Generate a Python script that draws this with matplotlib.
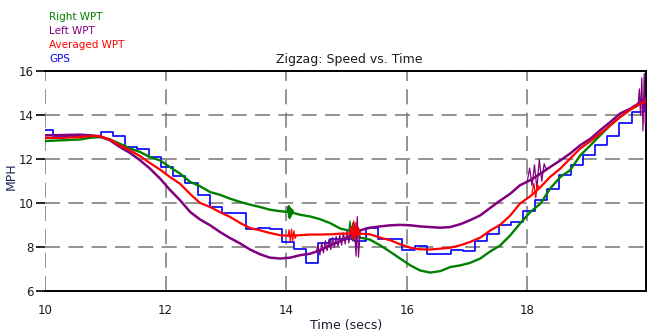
import matplotlib
matplotlib.use("Agg")
import matplotlib.pyplot as plt

# ---------------- data ----------------
t_wpt = [10.00, 10.25, 10.58, 10.75, 10.91, 11.08, 11.24, 11.41, 11.58, 11.74,
         11.91, 12.07, 12.24, 12.41, 12.57, 12.74, 12.90, 13.07, 13.24, 13.40,
         13.57, 13.73, 13.90, 14.07, 14.23, 14.40, 14.56, 14.73, 14.90, 15.06,
         15.23, 15.39, 15.56, 15.73, 15.89, 16.06, 16.22, 16.39, 16.56, 16.72,
         16.89, 17.05, 17.22, 17.39, 17.55, 17.72, 17.88, 18.05, 18.22, 18.38,
         18.55, 18.71, 18.88, 19.05, 19.21, 19.38, 19.54, 19.71, 19.88, 19.97]

right_wpt = [12.83, 12.86, 12.90, 12.98, 13.01, 12.90, 12.71, 12.49, 12.33, 12.10,
             11.95, 11.65, 11.35, 10.97, 10.78, 10.51, 10.39, 10.21, 10.06, 9.94,
             9.83, 9.71, 9.64, 9.60, 9.48, 9.40, 9.28, 9.10, 8.85, 8.75,
             8.44, 8.35, 8.09, 7.79, 7.49, 7.18, 6.95, 6.85, 6.92, 7.10,
             7.18, 7.29, 7.49, 7.82, 8.08, 8.55, 9.08, 9.60, 9.99, 10.67,
             11.20, 11.50, 12.18, 12.64, 13.09, 13.55, 13.92, 14.26, 14.53, 14.62]

left_wpt = [13.09, 13.10, 13.12, 13.09, 13.05, 12.86, 12.56, 12.29, 11.95, 11.58,
            11.12, 10.62, 10.14, 9.60, 9.27, 9.00, 8.70, 8.42, 8.17, 7.90,
            7.68, 7.53, 7.49, 7.53, 7.64, 7.71, 7.86, 8.09, 8.28, 8.50,
            8.77, 8.89, 8.95, 9.00, 9.02, 9.00, 8.95, 8.92, 8.89, 8.92,
            9.05, 9.23, 9.45, 9.80, 10.12, 10.44, 10.82, 11.05, 11.35, 11.65,
            11.95, 12.26, 12.64, 12.94, 13.32, 13.70, 14.08, 14.30, 14.60, 14.75]

avg_wpt = [12.97, 12.97, 13.01, 13.05, 13.05, 12.90, 12.64, 12.41, 12.14, 11.83,
           11.53, 11.20, 10.89, 10.42, 10.02, 9.83, 9.60, 9.38, 9.10, 8.88,
           8.77, 8.65, 8.55, 8.52, 8.55, 8.58, 8.58, 8.59, 8.62, 8.63,
           8.62, 8.59, 8.44, 8.32, 8.14, 7.98, 7.91, 7.90, 7.94, 7.98,
           8.09, 8.24, 8.44, 8.77, 9.02, 9.45, 9.99, 10.32, 10.74, 11.20,
           11.58, 12.03, 12.49, 12.83, 13.17, 13.55, 13.92, 14.26, 14.53, 14.65]

# noisy bursts (read approximately), one list pair per burst
right_b1_t = [14.02, 14.03, 14.04, 14.05, 14.06, 14.07, 14.08, 14.09, 14.10, 14.11, 14.12]
right_b1_v = [9.62, 9.85, 9.35, 9.90, 9.30, 9.80, 9.40, 9.75, 9.50, 9.70, 9.55]
right_b2_t = [15.04, 15.06, 15.08, 15.10, 15.12, 15.14, 15.16, 15.18]
right_b2_v = [8.75, 9.20, 8.40, 9.10, 8.30, 9.00, 8.45, 8.60]

left_b1_t = [14.50, 14.53, 14.56, 14.59, 14.62, 14.65, 14.68, 14.71, 14.74, 14.77,
             14.80, 14.83, 14.86, 14.89, 14.92, 14.95, 14.98, 15.01, 15.04, 15.07,
             15.10, 15.13, 15.16, 15.18, 15.20, 15.23]
left_b1_v = [7.80, 8.10, 7.65, 8.20, 7.75, 8.30, 7.85, 8.35, 7.90, 8.45,
             8.00, 8.50, 8.05, 8.55, 8.10, 8.65, 8.15, 8.75, 8.20, 8.90,
             8.30, 9.10, 7.60, 9.40, 7.55, 8.80]
left_b2_t = [18.00, 18.04, 18.08, 18.12, 18.16, 18.20, 18.24, 18.28, 18.32]
left_b2_v = [11.00, 11.60, 10.80, 11.75, 10.65, 12.00, 11.00, 11.80, 11.50]
left_b3_t = [19.84, 19.86, 19.88, 19.90, 19.92, 19.94, 19.96, 19.97]
left_b3_v = [14.50, 15.20, 14.00, 15.70, 13.30, 15.90, 13.60, 14.80]

avg_b1_t = [14.03, 14.05, 14.07, 14.09, 14.11, 14.13, 14.15, 14.17]
avg_b1_v = [8.50, 8.80, 8.25, 8.82, 8.30, 8.75, 8.40, 8.55]
avg_b2_t = [15.06, 15.08, 15.10, 15.12, 15.14, 15.16, 15.18, 15.20, 15.22]
avg_b2_v = [8.60, 8.95, 8.35, 9.20, 8.40, 9.15, 8.45, 8.90, 8.60]
avg_b3_t = [18.08, 18.11, 18.14, 18.17, 18.20]
avg_b3_v = [10.50, 10.90, 10.25, 10.85, 10.70]

gps_t = [10.00] + [round(10.13 + 0.2 * k, 2) for k in range(50)]
gps_v = [13.35, 13.05, 13.00, 13.05, 13.05, 13.25, 13.05, 12.57, 12.45, 12.12,
         11.63, 11.22, 10.92, 10.40, 9.85, 9.55, 9.55, 8.81, 8.88, 8.81,
         8.25, 7.91, 7.27, 8.20, 8.36, 8.40, 8.30, 8.87, 8.36, 8.36,
         7.90, 8.06, 7.68, 7.68, 7.86, 7.82, 8.28, 8.60, 9.00, 9.16,
         9.66, 10.14, 10.63, 11.27, 11.73, 12.18, 12.67, 13.07, 13.66, 14.13,
         14.53]

x_ticks = [10, 12, 14, 16, 18]
y_ticks = [6, 8, 10, 12, 14, 16]

series_names = ["Right WPT", "Left WPT", "Averaged WPT", "GPS"]
series_colors = ["#008000", "#800080", "#ff0000", "#0000ff"]

# ---------------- figure ----------------
fig = plt.figure(figsize=(6.72, 3.36), dpi=100)
ax = fig.add_axes([45 / 672, 1 - 291.3 / 336, 601 / 672, 220 / 336])

XMAX = 19.97
ax.set_xlim(10, XMAX)
ax.set_ylim(6, 16)

GREEN, PURPLE, RED, BLUE = series_colors

ax.plot(gps_t + [XMAX], gps_v + [gps_v[-1]], drawstyle="steps-post",
        color=BLUE, lw=1.2, zorder=3)

ax.plot(t_wpt, right_wpt, color=GREEN, lw=1.7, zorder=4)
for bt, bv in [(right_b1_t, right_b1_v), (right_b2_t, right_b2_v)]:
    ax.plot(bt, bv, color=GREEN, lw=0.9, zorder=4)

ax.plot(t_wpt, left_wpt, color=PURPLE, lw=1.8, zorder=5)
for bt, bv in [(left_b1_t, left_b1_v), (left_b2_t, left_b2_v), (left_b3_t, left_b3_v)]:
    ax.plot(bt, bv, color=PURPLE, lw=0.9, zorder=5)

ax.plot(t_wpt, avg_wpt, color=RED, lw=1.6, zorder=6)
for bt, bv in [(avg_b1_t, avg_b1_v), (avg_b2_t, avg_b2_v), (avg_b3_t, avg_b3_v)]:
    ax.plot(bt, bv, color=RED, lw=0.9, zorder=6)

# grid
ax.set_xticks(x_ticks)
ax.set_yticks(y_ticks)
ax.grid(True, color="#808080", lw=1.2, linestyle=(0, (9, 5)), zorder=1)
ax.set_axisbelow(True)

for s in ["top", "bottom", "right"]:
    ax.spines[s].set_color("black")
    ax.spines[s].set_linewidth(1.4)
ax.spines["left"].set_visible(False)

ax.tick_params(axis="y", length=6.5, width=1.2, color="black", pad=1.5,
               labelsize=8.5, labelcolor="#1a1a1a", direction="out")
ax.tick_params(axis="x", length=0, pad=9, labelsize=8.5, labelcolor="#1a1a1a")
for lbl in ax.get_xticklabels() + ax.get_yticklabels():
    lbl.set_family("DejaVu Sans")

# labels / title / legend text
fig.text(346 / 672, 1 - 325 / 336, "Time (secs)", ha="center", va="center",
         fontsize=9, color="#1a1a2a", family="DejaVu Sans")
fig.text(11 / 672, 1 - 176 / 336, "MPH", ha="center", va="center", rotation=90,
         fontsize=9, color="#1a2a5a", family="DejaVu Sans")
fig.text(349 / 672, 1 - 59 / 336, "Zigzag: Speed vs. Time", ha="center", va="center",
         fontsize=9, color="#1a1a1a", family="DejaVu Sans")

for i, (name, col) in enumerate(zip(series_names, series_colors)):
    fig.text(49 / 672, 1 - (17 + 14 * i) / 336, name, ha="left", va="center",
             fontsize=7.5, color=col, family="DejaVu Sans")

fig.savefig("out.png", dpi=100)
